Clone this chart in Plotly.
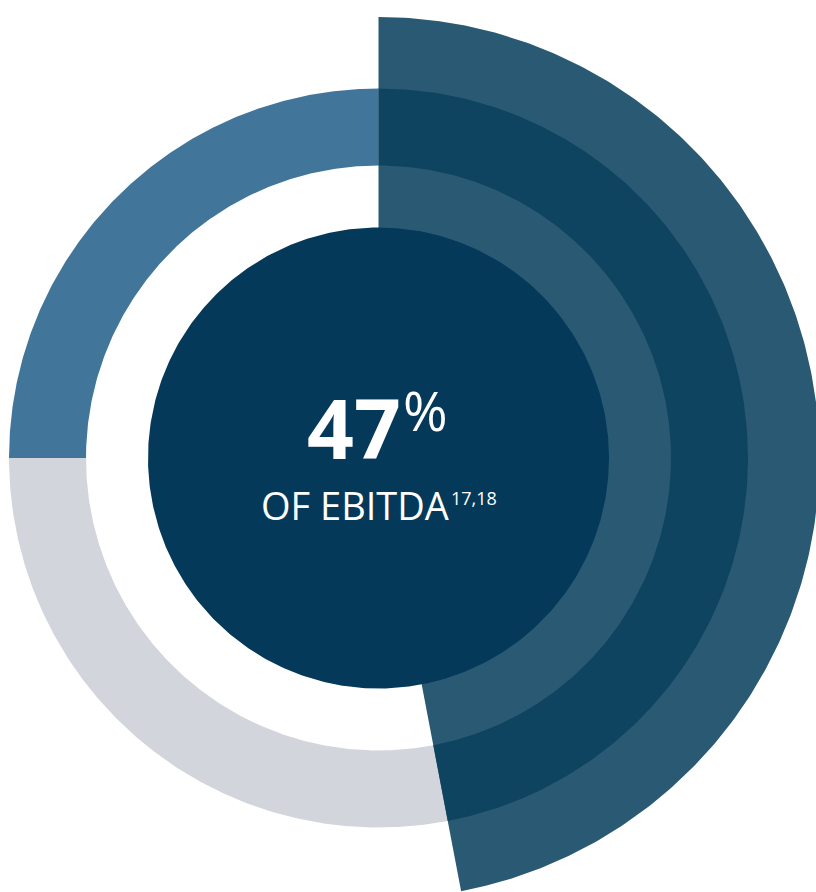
import numpy as np
import plotly.graph_objects as go

# ---- data ----
segment_labels = ["EBITDA share", "Other (grey)", "Other (blue)"]
segment_values = [47, 28, 25]          # percent of the full circle, clockwise from 12 o'clock
headline_value = "47"
headline_unit = "%"
headline_label = "OF EBITDA"
footnote_refs = "17,18"

# ---- geometry / style (not data) ----
R_CORE = 230.5
R_RING_IN = 292.5
R_RING_OUT = 369.5
R_WEDGE_OUT = 441.0
C_CORE = "#04395a"
C_WEDGE_LIGHT = "#2a5a73"
C_WEDGE_DARK = "#0f4460"
C_GREY = "#d3d5dc"
C_BLUE = "#41769a"

W, H = 816, 892
CX, CY = 378.5, 458.0   # centre in page pixels


def sector(f0, f1, r0, r1, n=300):
    t = np.linspace(f0, f1, n) * 2 * np.pi
    xo, yo = r1 * np.sin(t), r1 * np.cos(t)
    xi, yi = r0 * np.sin(t[::-1]), r0 * np.cos(t[::-1])
    return np.concatenate([xo, xi, xo[:1]]), np.concatenate([yo, yi, yo[:1]])


fig = go.Figure()


def add(x, y, color):
    fig.add_trace(go.Scatter(x=x, y=y, mode="lines", fill="toself", fillcolor=color,
                             line=dict(width=0, color=color), hoverinfo="skip", showlegend=False))


cum = np.concatenate([[0], np.cumsum(segment_values)]) / 100.0
# ring segments (grey, blue), slightly overlapping so no seams
add(*sector(cum[1], cum[2] + 0.002, R_RING_IN, R_RING_OUT), C_GREY)
add(*sector(cum[2], cum[3], R_RING_IN, R_RING_OUT), C_BLUE)
# highlighted wedge: full light sector, darker band on top
add(*sector(cum[0], cum[1], R_CORE - 4, R_WEDGE_OUT), C_WEDGE_LIGHT)
add(*sector(cum[0], cum[1], R_RING_IN, R_RING_OUT), C_WEDGE_DARK)
# core disc
add(*sector(0, 1, 0, R_CORE, n=500), C_CORE)

font = "Open Sans"
fig.add_annotation(x=24, y=31, text=f"<b>{headline_value}</b>", showarrow=False,
                   font=dict(family=font, size=82, color="white"), xanchor="right", yanchor="middle")
fig.add_annotation(x=22, y=48, text=headline_unit, showarrow=False,
                   font=dict(family=font, size=54, color="white"), xanchor="left", yanchor="middle")
fig.add_annotation(x=72, y=-47, text=headline_label, showarrow=False,
                   font=dict(family=font, size=38, color="white"), xanchor="right", yanchor="middle")
fig.add_annotation(x=70, y=-40, text=footnote_refs, showarrow=False,
                   font=dict(family=font, size=18, color="white"), xanchor="left", yanchor="middle")

fig.update_layout(
    width=W, height=H, margin=dict(l=0, r=0, t=0, b=0),
    paper_bgcolor="white", plot_bgcolor="white",
    xaxis=dict(range=[-CX, W - CX], visible=False, fixedrange=True),
    yaxis=dict(range=[-(H - CY), CY], visible=False, fixedrange=True),
)

fig.write_html("out.html")
